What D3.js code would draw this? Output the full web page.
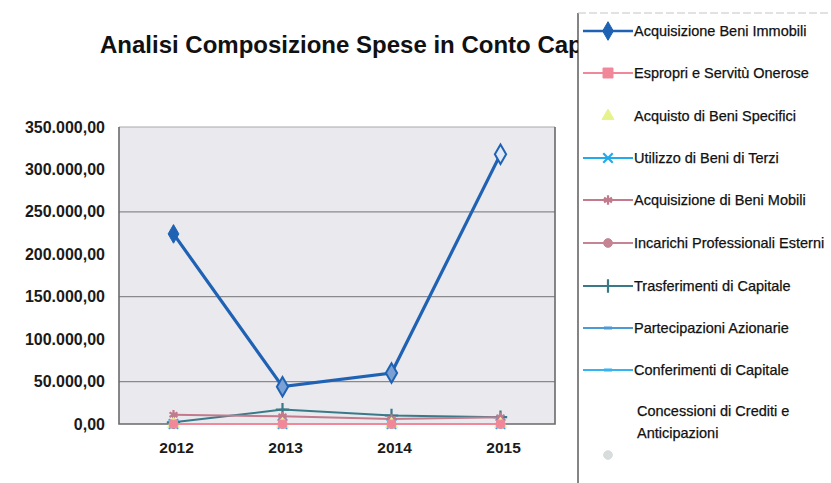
<!DOCTYPE html>
<html><head><meta charset="utf-8">
<script src="https://cdn.jsdelivr.net/npm/d3@7"></script>
<style>body{margin:0;background:#fff}svg{display:block}</style>
</head><body>
<script>
const years = ["2012","2013","2014","2015"];
const seriesNames = [
  "Acquisizione Beni Immobili",
  "Espropri e Servitù Onerose",
  "Acquisto di Beni Specifici",
  "Utilizzo di Beni di Terzi",
  "Acquisizione di Beni Mobili",
  "Incarichi Professionali Esterni",
  "Trasferimenti di Capitale",
  "Partecipazioni Azionarie",
  "Conferimenti di Capitale",
  "Concessioni di Crediti e Anticipazioni"
];
const beniImmobili = [224000, 44000, 60000, 318000];
const espropri = [0, 0, 0, 0];
const beniSpecifici = [0, 0, 0, 0];
const beniTerzi = [0, 0, 0, 0];
const beniMobili = [11000, 9000, 6000, 8000];
const incarichi = [0, 0, 0, 0];
const trasferimenti = [2000, 17000, 10000, 8000];
const partecipazioni = [0, 0, 0, 0];
const conferimenti = [0, 0, 0, 0];
const concessioni = [0, 0, 0, 0];
const yTicks = [0, 50000, 100000, 150000, 200000, 250000, 300000, 350000];
const gridValues = [50000, 150000, 250000];

const seriesValues = [beniImmobili, espropri, beniSpecifici, beniTerzi, beniMobili, incarichi, trasferimenti, partecipazioni, conferimenti, concessioni];
const colors = ["#1f62b4","#f0889a","#e6f28a","#22aaea","#c27a8c","#c48494","#3a7a88","#4a9ad6","#34b4f0","#d8dcdc"];
const symbols = ["diamond","square","triangle","x","star","circle","plus","dash","dash","circle"];
const drawLine = [true,true,false,true,true,true,true,true,true,false];

const W = 831, H = 483;
const FONT = "Liberation Sans, Arial, sans-serif";
const svg = d3.select("body").append("svg").attr("width", W).attr("height", H);
const plot = {l:119, r:555, t:127, b:424};

const x = d3.scaleBand().domain(years).range([plot.l, plot.r]);
const y = d3.scaleLinear().domain([0, 350000]).range([plot.b, plot.t]);
const loc = d3.formatLocale({decimal:",", thousands:".", grouping:[3], currency:["€",""]});
const fmt = loc.format(",.2f");

// plot background
svg.append("rect").attr("x", plot.l).attr("y", plot.t).attr("width", plot.r-plot.l).attr("height", plot.b-plot.t)
  .attr("fill", "#e9e9ee");
// gridlines
svg.append("g").selectAll("line").data(gridValues).join("line")
  .attr("x1", plot.l).attr("x2", plot.r).attr("y1", d=>y(d)).attr("y2", d=>y(d))
  .attr("stroke", "#8a8a8e").attr("stroke-width", 1.2);
// border
svg.append("path").attr("d", `M${plot.l},${plot.t}H${plot.r}`)
  .attr("fill","none").attr("stroke","#a8a8ac").attr("stroke-width",1);
svg.append("path").attr("d", `M${plot.l},${plot.t}V${plot.b}H${plot.r}V${plot.t}`)
  .attr("fill","none").attr("stroke","#6a6a6e").attr("stroke-width",1.6);

// y axis
const yAxis = d3.axisLeft(y).tickValues(yTicks).tickFormat(fmt).tickSize(0).tickPadding(14);
const ga = svg.append("g").attr("transform", `translate(${plot.l},0)`).call(yAxis);
ga.select(".domain").remove();
ga.selectAll("text").attr("font-family",FONT).attr("font-size","16px")
  .attr("font-weight","bold").attr("fill","#1a1a1a");

// x axis
const xAxis = d3.axisBottom(x).tickSize(0).tickPadding(18);
const gx = svg.append("g").attr("transform", `translate(3,${plot.b})`).call(xAxis);
gx.select(".domain").remove();
gx.selectAll("text").attr("font-family",FONT).attr("font-size","15.5px")
  .attr("font-weight","bold").attr("fill","#1a1a1a");

function symbolPath(kind, size){
  const map = {diamond:d3.symbolDiamond, square:d3.symbolSquare, triangle:d3.symbolTriangle, x:d3.symbolTimes,
    star:d3.symbolAsterisk, circle:d3.symbolCircle, plus:d3.symbolPlus, dash:d3.symbolSquare};
  return d3.symbol().type(map[kind]).size(size)();
}
function drawMarker(g, kind, color, cx, cy, big){
  const s = big ? 100 : 60;
  if (kind === "dash") {
    g.append("rect").attr("x", cx-4).attr("y", cy-1.5).attr("width",8).attr("height",3).attr("fill", color);
    return;
  }
  const p = g.append("path").attr("d", symbolPath(kind, s)).attr("transform", `translate(${cx},${cy})`);
  if (kind === "x" || kind === "star" || kind === "plus") p.attr("fill","none").attr("stroke", color).attr("stroke-width", 2.2);
  else p.attr("fill", color).attr("stroke", color).attr("stroke-width", 1);
}

// series (draw in reverse so blue on top)
const line = d3.line().x((d,i)=>x(years[i]) + x.bandwidth()/2).y(d=>y(d));
const sg = svg.append("g");
for (let k = seriesValues.length-1; k >= 0; k--) {
  const vals = seriesValues[k];
  if (drawLine[k]) sg.append("path").attr("d", line(vals)).attr("fill","none")
    .attr("stroke", colors[k]).attr("stroke-width", k===0 ? 3.2 : 2);
  vals.forEach((v,i)=>{
    const cx = x(years[i]) + x.bandwidth()/2, cy = y(v);
    if (k === 0 && i > 0) {
      sg.append("path").attr("d", symbolPath("diamond", 110)).attr("transform",`translate(${cx},${cy})`)
        .attr("fill", i===3 ? "#dfe8f4" : "#7aa0d4").attr("stroke", colors[0]).attr("stroke-width",2);
    } else drawMarker(sg, symbols[k], colors[k], cx, cy, k===0);
  });
}

// title (partly hidden behind legend, as in the reference)
svg.append("text").attr("x", 100).attr("y", 53).text("Analisi Composizione Spese in Conto Capitale")
  .attr("font-family",FONT).attr("font-size","24px").attr("font-weight","bold").attr("fill","#111");

// legend box
const lg = svg.append("g");
lg.append("rect").attr("x", 578).attr("y", 13).attr("width", 260).attr("height", 480).attr("fill","#fff");
lg.append("line").attr("x1",578).attr("x2",578).attr("y1",13).attr("y2",483).attr("stroke","#333").attr("stroke-width",1.2);
lg.append("line").attr("x1",578).attr("x2",831).attr("y1",13).attr("y2",13).attr("stroke","#c4c4c4").attr("stroke-width",1).attr("stroke-dasharray","8,3");
const rowY = [31, 73, 116, 158, 200, 243, 286, 328, 370, 411];
seriesNames.forEach((name,k)=>{
  const cy = rowY[k];
  if (drawLine[k]) lg.append("line").attr("x1",583).attr("x2",633).attr("y1",cy).attr("y2",cy)
    .attr("stroke", colors[k]).attr("stroke-width", k===0?2.5:2);
  drawMarker(lg, symbols[k], colors[k], 608, k===9 ? 455 : cy, k<2);
  const t = lg.append("text").attr("x", 634).attr("y", cy+5)
    .attr("font-family",FONT).attr("font-size","14.5px").attr("fill","#111")
    .attr("stroke","#111").attr("stroke-width",0.25);
  if (k === 9) {
    t.append("tspan").attr("x",637).text("Concessioni di Crediti e");
    t.append("tspan").attr("x",637).attr("dy",22).text("Anticipazioni");
  } else t.text(name);
});
</script>
</body></html>
